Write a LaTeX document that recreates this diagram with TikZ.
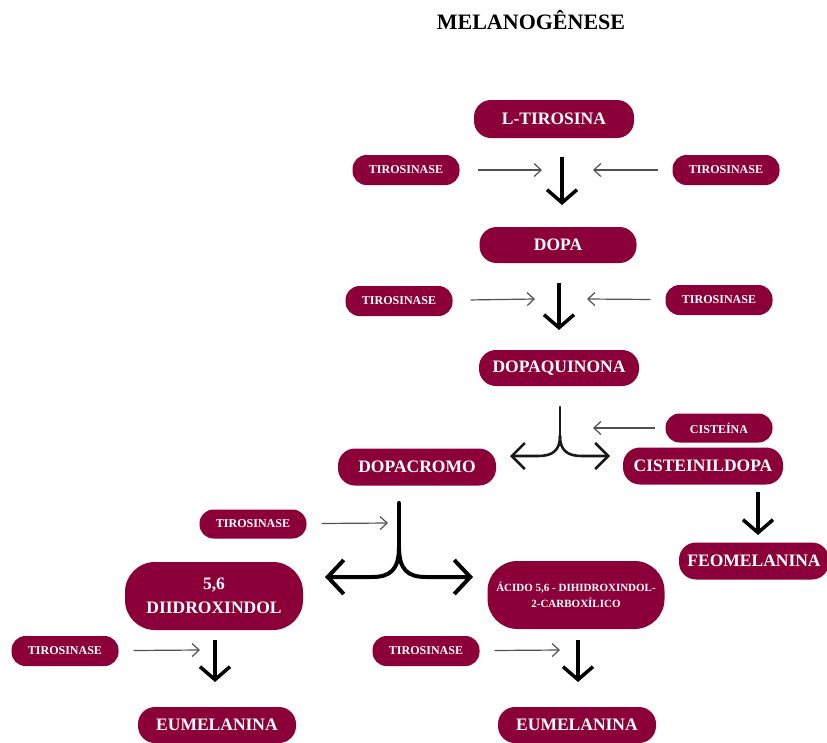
\documentclass[tikz,border=0pt]{standalone}
\usepackage{fontspec}
\setmainfont{Liberation Serif}
\usetikzlibrary{arrows.meta}
\definecolor{maroon}{RGB}{139,0,56}
\definecolor{thin}{RGB}{80,80,80}
\tikzset{
  pill/.style={fill=maroon, text=white, font=\bfseries, rounded corners=#1, inner sep=0pt, align=center},
  pill/.default=14pt,
  big/.style={pill=17pt, minimum width=158pt, minimum height=37pt, font=\fontsize{17.5}{20}\selectfont\bfseries},
  small/.style={pill=14pt, minimum width=107pt, minimum height=30pt, font=\fontsize{12}{14}\selectfont\bfseries},
  thinarrow/.style={draw=thin, line width=1.2pt, -{Straight Barb[length=7pt,width=13pt]}},
  downarrow/.style={draw=black, line width=3.5pt, -{Straight Barb[length=13pt,width=30pt]}},
  brancharrow/.style={draw=black!90, line width=#1, line cap=round, -{Straight Barb[length=13pt,width=26pt]}},
}
\begin{document}
\begin{tikzpicture}[x=1pt,y=-1pt]
\useasboundingbox (0,0) rectangle (827,742);
\node[font=\fontsize{22}{24}\selectfont\bfseries, text=black] (title) at (531,20) {MELANOGÊNESE};

\node[big, minimum width=160pt, minimum height=38pt] (ltir) at (554,119) {L-TIROSINA};
\node[small] (t1l) at (406,170) {TIROSINASE};
\node[small] (t1r) at (726,170) {TIROSINASE};
\node[big, minimum width=157pt, minimum height=36pt] (dopa) at (558,245) {DOPA};
\node[small] (t2l) at (399,301) {TIROSINASE};
\node[small] (t2r) at (719,300) {TIROSINASE};
\node[big, minimum width=160pt, minimum height=36pt] (dq) at (559,368) {DOPAQUINONA};
\node[small, minimum height=29pt] (cis) at (719,428) {CISTEÍNA};
\node[big] (dcr) at (417,467) {DOPACROMO};
\node[big, minimum width=160pt] (cisd) at (703,466) {CISTEINILDOPA};
\node[big, minimum width=150pt] (feo) at (754,561) {FEOMELANINA};
\node[small, minimum height=29pt] (t3l) at (253,524) {TIROSINASE};
\node[big, pill=30pt, minimum width=178pt, minimum height=68pt, font=\fontsize{17.5}{24}\selectfont\bfseries] (diid) at (214,596) {5,6\\DIIDROXINDOL};
\node[big, pill=30pt, minimum width=177pt, minimum height=68pt, font=\fontsize{11}{16}\selectfont\bfseries] (acid) at (576,595) {ÁCIDO 5,6 - DIHIDROXINDOL-\\2-CARBOXÍLICO};
\node[small] (t4l) at (65,651) {TIROSINASE};
\node[small] (t4r) at (426,651) {TIROSINASE};
\node[big, minimum height=36pt] (eu1) at (217,725) {EUMELANINA};
\node[big, minimum height=36pt] (eu2) at (577,725) {EUMELANINA};

% coordinates for arrows
\coordinate (a1s) at (562,157); \coordinate (a1e) at (562,205);
\coordinate (a2s) at (559,283); \coordinate (a2e) at (559,330);
\coordinate (a3s) at (758,492); \coordinate (a3e) at (758,535);
\coordinate (a4s) at (215,640); \coordinate (a4e) at (215,682);
\coordinate (a5s) at (578,640); \coordinate (a5e) at (578,682);
\coordinate (c1l) at (542,170); \coordinate (c1r) at (593,170);
\coordinate (c2l) at (535,299); \coordinate (c2r) at (587,299);
\coordinate (ccis) at (593,428);
\coordinate (c3l) at (388,523);
\coordinate (c4l) at (200,650);
\coordinate (c4r) at (560,650);

\draw[downarrow] (a1s) -- (a1e);
\draw[downarrow] (a2s) -- (a2e);
\draw[downarrow] (a3s) -- (a3e);
\draw[downarrow] (a4s) -- (a4e);
\draw[downarrow] (a5s) -- (a5e);

\draw[thinarrow, shorten <=18pt] (t1l) -- (c1l);
\draw[thinarrow, shorten <=14pt] (t1r) -- (c1r);
\draw[thinarrow, shorten <=18pt] (t2l) -- (c2l);
\draw[thinarrow, shorten <=15pt] (t2r) -- (c2r);
\draw[thinarrow, shorten <=10pt] (cis) -- (ccis);
\draw[thinarrow, shorten <=15pt] (t3l) -- (c3l);
\draw[thinarrow, shorten <=15pt] (t4l) -- (c4l);
\draw[thinarrow, shorten <=15pt] (t4r) -- (c4r);

% branch 1 (dopaquinona)
\coordinate (b1top) at (560,407);
\coordinate (b1mid) at (560,436);
\coordinate (b1l) at (510,456);
\coordinate (b1r) at (610,456);
\draw[line width=2.6pt, black!90, line cap=round] (b1top) -- (b1mid);
\draw[brancharrow=2.6pt] (b1mid) .. controls (560,451) and (552,456) .. (538,456) -- (b1l);
\draw[brancharrow=2.6pt] (b1mid) .. controls (560,451) and (568,456) .. (582,456) -- (b1r);

% branch 2 (dopacromo)
\coordinate (b2top) at (399,503);
\coordinate (b2mid) at (399,547);
\coordinate (b2l) at (325,577);
\coordinate (b2r) at (473,577);
\draw[line width=4pt, black, line cap=round] (b2top) -- (b2mid);
\draw[line width=4pt, black, line cap=round, -{Straight Barb[length=16pt,width=34pt]}] (b2mid) .. controls (399,570) and (390,577) .. (372,577) -- (b2l);
\draw[line width=4pt, black, line cap=round, -{Straight Barb[length=16pt,width=34pt]}] (b2mid) .. controls (399,570) and (408,577) .. (426,577) -- (b2r);
\end{tikzpicture}
\end{document}
